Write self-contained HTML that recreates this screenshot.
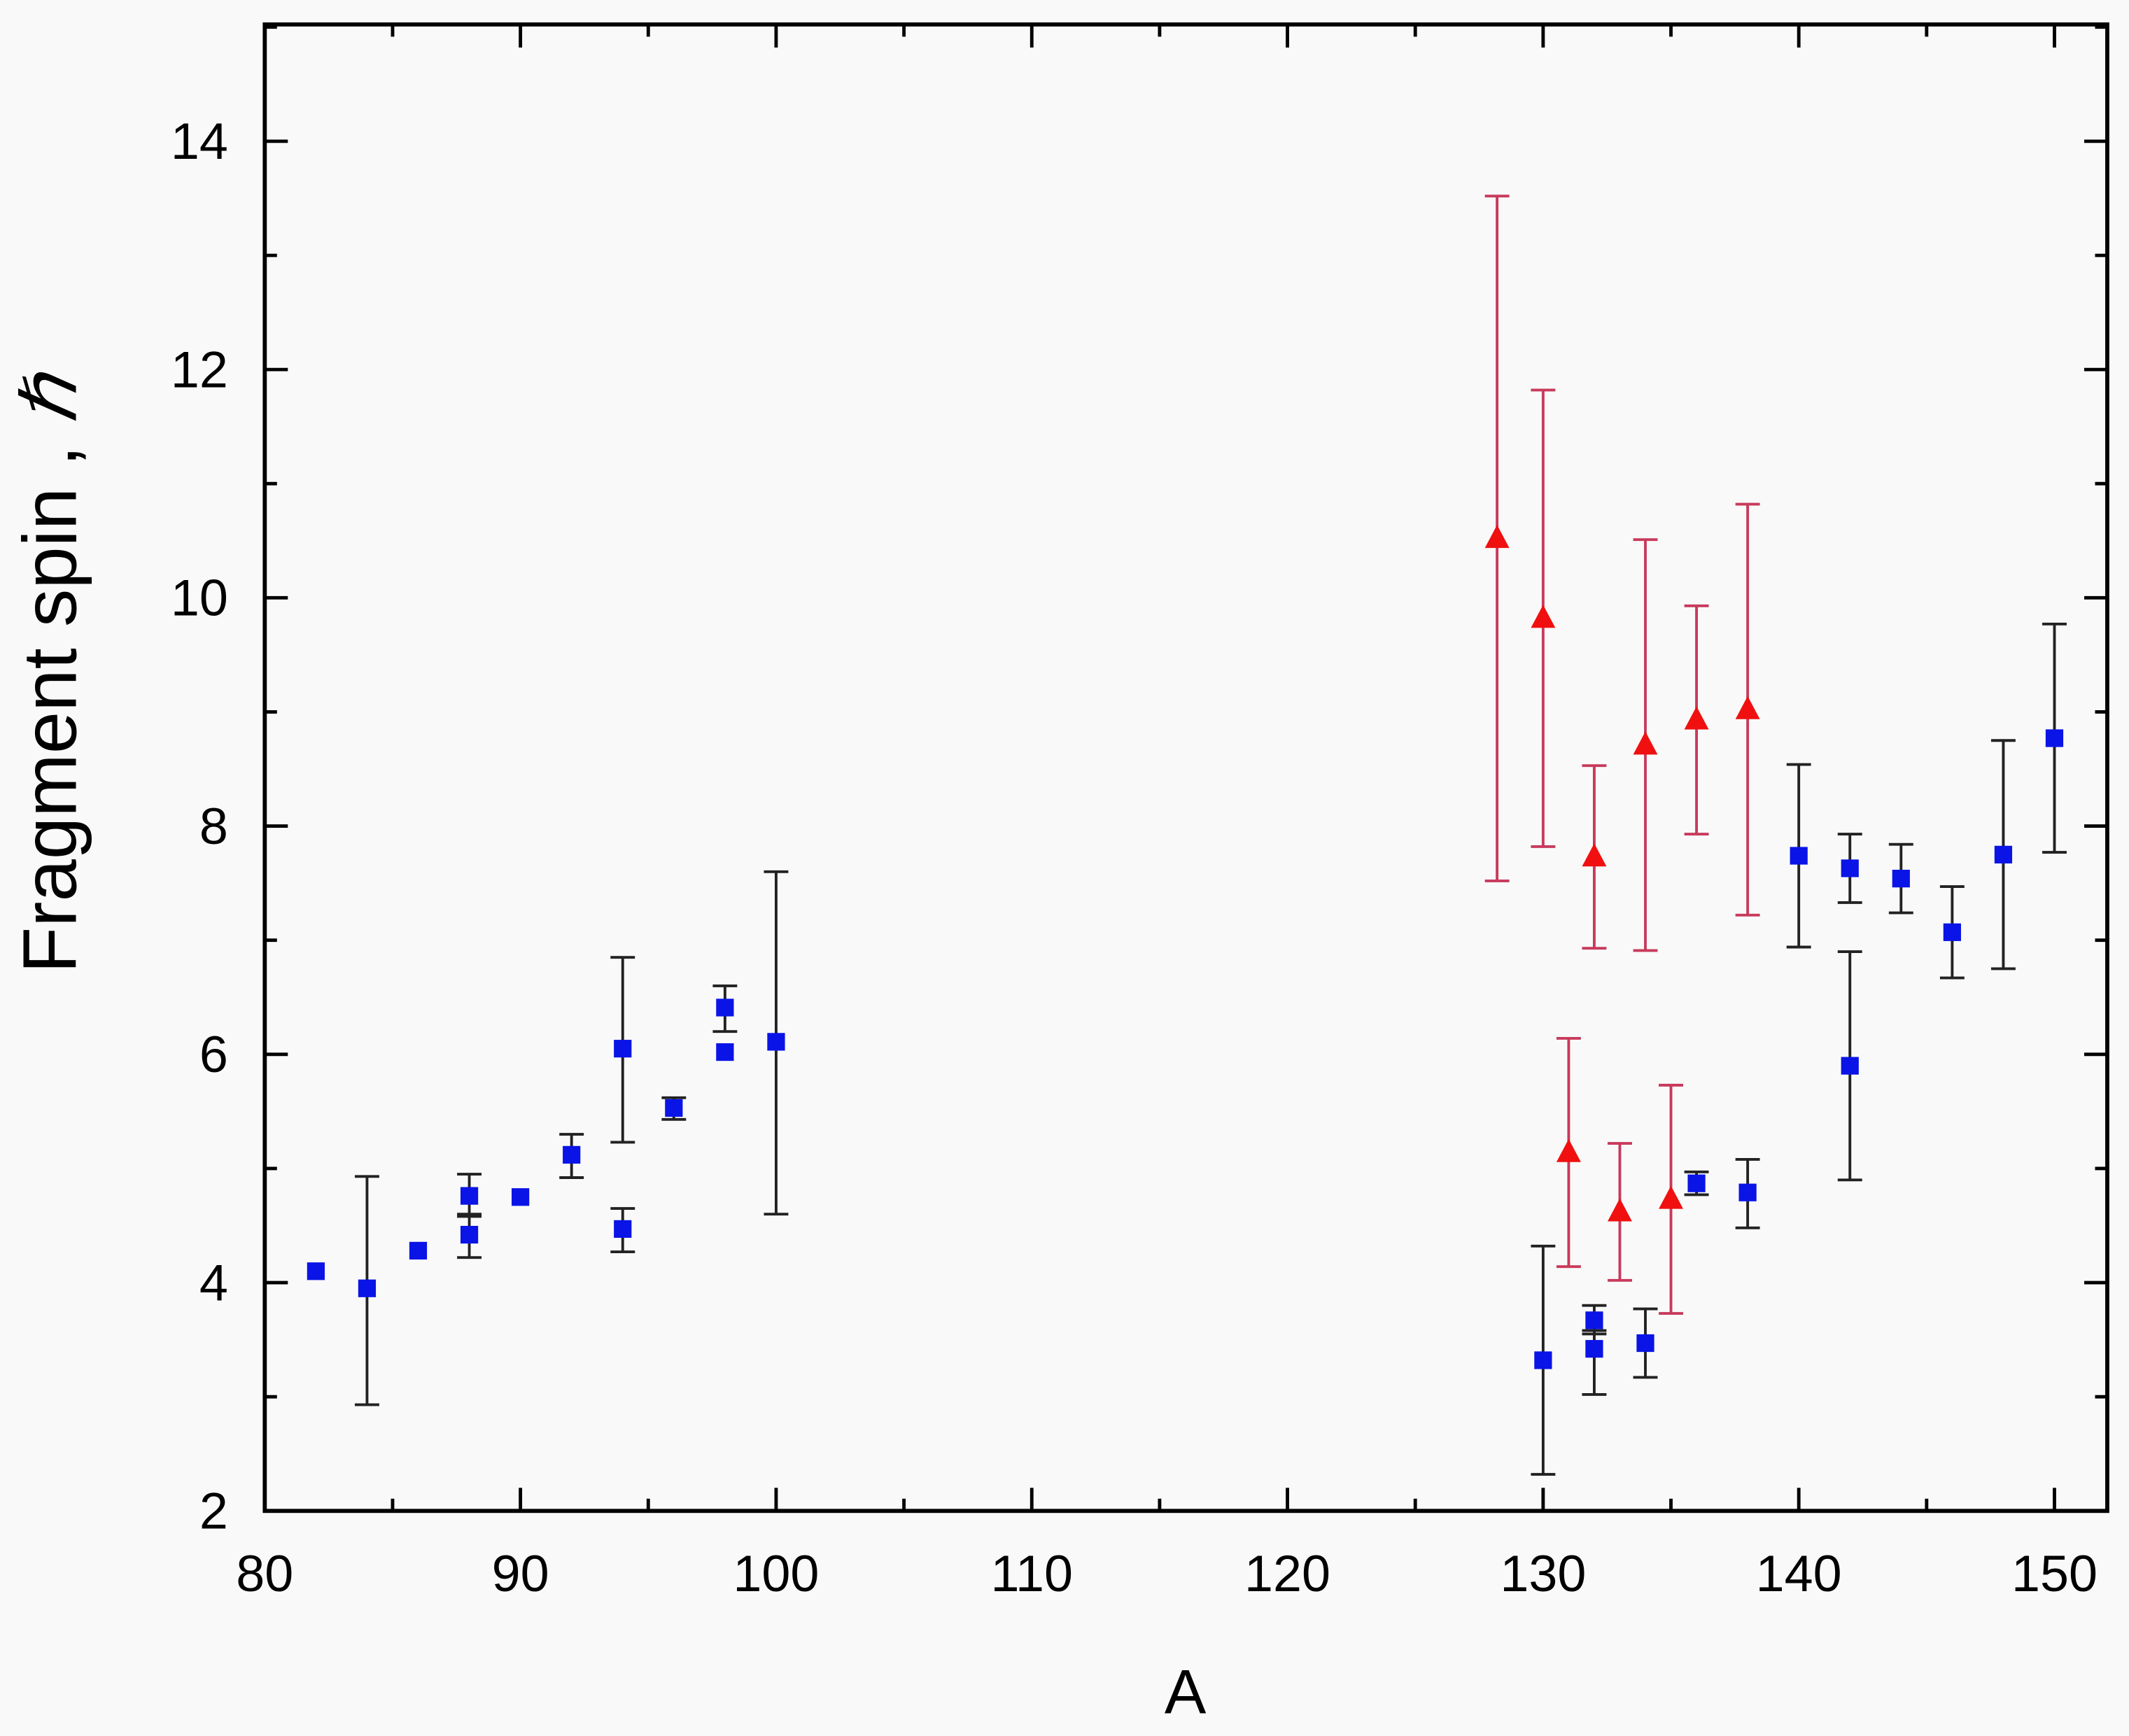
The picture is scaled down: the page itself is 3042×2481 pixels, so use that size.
<!DOCTYPE html>
<html><head><meta charset="utf-8"><style>
html,body{margin:0;padding:0;background:#f9f9f9;}
svg{display:block;}
text{font-family:"Liberation Sans",sans-serif;fill:#000;}
</style></head><body>
<svg id="s" width="3042" height="2481" viewBox="0 0 1568 1278.8" xmlns="http://www.w3.org/2000/svg">
<rect x="0" y="0" width="1568" height="1279" fill="#f9f9f9"/>
<g id="g"></g>
<rect x="195" y="18" width="1357" height="1095" fill="none" stroke="#000" stroke-width="3"/>
<text x="873" y="1262" font-size="46" text-anchor="middle">A</text>
<text transform="translate(56,497) rotate(-90)" font-size="56" text-anchor="middle">Fragment spin , <tspan font-style="italic">ℏ</tspan></text>
</svg>
<script>
var X=a=>195+(a-80)*18.83, Y=v=>1113-(v-2)*84.08;
var h='';
for(var a=80;a<=150;a+=5){var x=X(a),L=a%10==0?17:9;
h+=`<line x1="${x}" y1="1113" x2="${x}" y2="${1113-L}" stroke="#000" stroke-width="2.5"/><line x1="${x}" y1="18" x2="${x}" y2="${18+L}" stroke="#000" stroke-width="2.5"/>`;
if(a%10==0)h+=`<text x="${x}" y="1172" font-size="38" text-anchor="middle">${a}</text>`;}
for(var v=2;v<=15;v++){var y=Y(v),L=v%2==0?17:9;
h+=`<line x1="195" y1="${y}" x2="${195+L}" y2="${y}" stroke="#000" stroke-width="2.5"/><line x1="1552" y1="${y}" x2="${1552-L}" y2="${y}" stroke="#000" stroke-width="2.5"/>`;
if(v%2==0)h+=`<text x="168" y="${y+13}" font-size="38" text-anchor="end">${v}</text>`;}
var B=[[82,4.1],[84,3.95,2.93,4.93],[86,4.28],[88,4.76,4.58,4.95],[88,4.42,4.22,4.6],[90,4.75],[92,5.12,4.92,5.3],[94,6.05,5.23,6.85],[94,4.47,4.27,4.65],[96,5.53,5.43,5.62],[98,6.41,6.2,6.6],[98,6.02],[100,6.11,4.6,7.6],[130,3.32,2.32,4.32],[132,3.67,3.55,3.8],[132,3.42,3.02,3.58],[134,3.47,3.17,3.77],[136,4.87,4.77,4.97],[138,4.79,4.48,5.08],[140,7.74,6.94,8.54],[142,7.63,7.33,7.93],[142,5.9,4.9,6.9],[144,7.54,7.24,7.84],[146,7.07,6.67,7.47],[148,7.75,6.75,8.75],[150,8.77,7.77,9.77]];
var R=[[128.2,10.52,7.52,13.52],[130,9.82,7.82,11.82],[132,7.73,6.93,8.53],[134,8.71,6.91,10.51],[136,8.93,7.93,9.93],[138,9.02,7.22,10.82],[131,5.14,4.14,6.14],[133,4.62,4.02,5.22],[135,4.73,3.73,5.73]];
function eb(d,c){if(d.length<4)return '';var x=X(d[0]),y1=Y(d[2]),y2=Y(d[3]);
return `<path d="M${x} ${y1}V${y2}M${x-9} ${y1}H${x+9}M${x-9} ${y2}H${x+9}" stroke="${c}" stroke-width="2" fill="none"/>`;}
B.forEach(d=>h+=eb(d,'#222'));R.forEach(d=>h+=eb(d,'#c83a5c'));
B.forEach(d=>{var x=X(d[0]),y=Y(d[1]);h+=`<rect x="${x-6.5}" y="${y-6.5}" width="13" height="13" fill="#0a14e6"/>`;});
R.forEach(d=>{var x=X(d[0]),y=Y(d[1]);h+=`<path d="M${x} ${y-10}L${x+9} ${y+7}L${x-9} ${y+7}Z" fill="#f01010"/>`;});
document.getElementById('g').innerHTML=h;
</script>
</body></html>
